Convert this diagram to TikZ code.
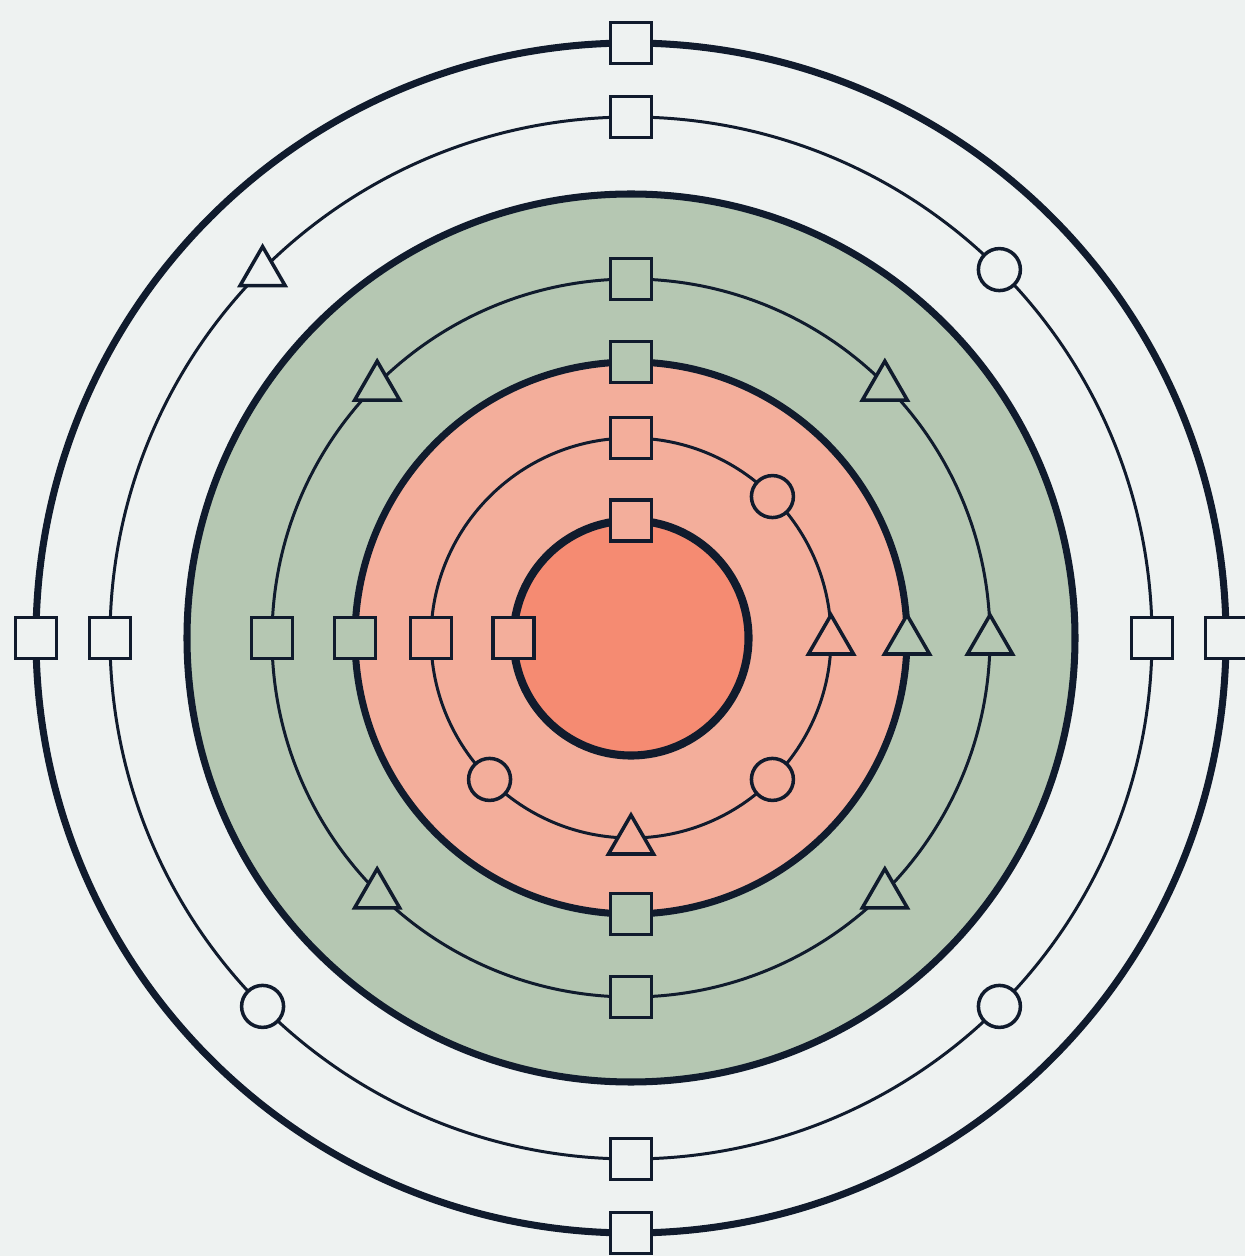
\documentclass[tikz,border=0pt]{standalone}
\usetikzlibrary{shapes.geometric}

\definecolor{sfondo}{HTML}{EEF2F1}
\definecolor{salvia}{HTML}{B5C7B2}
\definecolor{rosa}{HTML}{F3AE9B}
\definecolor{corallo}{HTML}{F58B72}
\definecolor{inchiostro}{HTML}{101B2D}

\tikzset{
  anello/.style={draw=inchiostro, line width=2pt},
  orbita/.style={draw=inchiostro, line width=0.85pt},
  quadro/.style={draw=inchiostro, line width=1pt, minimum size=0.41cm, inner sep=0pt},
  tri/.style={regular polygon, regular polygon sides=3, draw=inchiostro, line width=1pt, minimum size=0.52cm, inner sep=0pt, yshift=-0.03cm},
  tondo/.style={circle, draw=inchiostro, line width=1pt, minimum size=0.42cm, inner sep=0pt},
}

\begin{document}
\begin{tikzpicture}
    % Sfondo e margini
    \useasboundingbox (-6.31,-6.18) rectangle (6.14,6.38);
    \fill[sfondo] (-6.31,-6.18) rectangle (6.14,6.38);

    % Dischi colorati
    \fill[salvia] (0,0) circle (4.44);
    \fill[rosa] (0,0) circle (2.76);
    \fill[corallo] (0,0) circle (1.175);

    % Cerchi
    \draw[anello] (0,0) circle (5.95);
    \draw[orbita] (0,0) circle (5.21);
    \draw[anello] (0,0) circle (4.44);
    \draw[orbita] (0,0) circle (3.59);
    \draw[anello] (0,0) circle (2.76);
    \draw[orbita] (0,0) circle (2.00);
    \draw[draw=inchiostro, line width=2.3pt] (0,0) circle (1.175);

    % Anelli esterni
    \foreach \a in {0,90,180,270} {
        \node[quadro, fill=sfondo] (est-\a) at (\a:5.95) {};
        \node[quadro, fill=sfondo] (orb-\a) at (\a:5.21) {};
    }
    \node[tri, fill=sfondo] (orb-135) at (135:5.21) {};
    \foreach \a in {45,225,315}
        \node[tondo, fill=sfondo] (orb-\a) at (\a:5.21) {};

    % Anello verde
    \foreach \a in {90,180}
        \node[quadro, fill=salvia] (ver-\a) at (\a:3.59) {};
    \foreach \a in {0,45,135,225,315}
        \node[tri, fill=salvia] (ver-\a) at (\a:3.59) {};
    \node[quadro, fill=salvia] (ver-270) at (270:3.59) {};

    % Bordo rosa
    \foreach \a in {90,180,270}
        \node[quadro, fill=salvia] (bor-\a) at (\a:2.76) {};
    \node[tri, fill=salvia] (bor-0) at (0:2.76) {};

    % Anello rosa
    \foreach \a in {90,180}
        \node[quadro, fill=rosa] (ros-\a) at (\a:2.00) {};
    \node[tri, fill=rosa] (ros-0) at (0:2.00) {};
    \node[tri, fill=rosa] (ros-270) at (270:2.00) {};
    \foreach \a in {45,225,315}
        \node[tondo, fill=rosa] (ros-\a) at (\a:2.00) {};

    % Nucleo
    \node[quadro, fill=rosa] (nuc-90) at (90:1.175) {};
    \node[quadro, fill=rosa] (nuc-180) at (180:1.175) {};
\end{tikzpicture}
\end{document}
